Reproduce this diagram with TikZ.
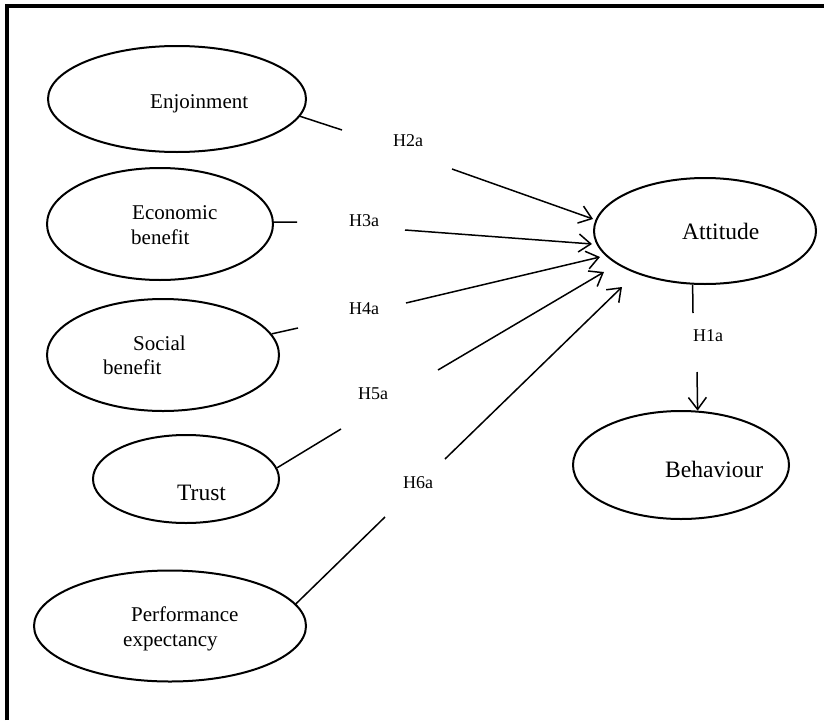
\documentclass[tikz,border=0pt]{standalone}
\usepackage{fontspec}
\setmainfont{Liberation Serif}
\usetikzlibrary{shapes.geometric,arrows.meta}
\begin{document}
\begin{tikzpicture}[x=1pt,y=-1pt,
  construct/.style={draw, ellipse, line width=2pt, inner sep=0pt},
  lbl/.style={inner sep=0pt, anchor=base west, font=\fontsize{21}{25}\selectfont},
  biglbl/.style={lbl, font=\fontsize{23.5}{28}\selectfont},
  hyp/.style={inner sep=0pt, anchor=base west, font=\fontsize{18}{21}\selectfont},
  link/.style={line width=1.5pt},
  arr/.style={link, -{Straight Barb[length=12pt,width=18pt]}}
]
\useasboundingbox (0,0) rectangle (824,720);
\draw[line width=4pt] (6.5,720) -- (6.5,6) -- (824,6);

% constructs
\node[construct, minimum width=258pt, minimum height=106pt] (enj) at (177,99) {};
\node[construct, minimum width=226pt, minimum height=112pt] (econ) at (160,224) {};
\node[construct, minimum width=232pt, minimum height=112pt] (soc) at (163,355) {};
\node[construct, minimum width=186pt, minimum height=88pt] (trust) at (186,479) {};
\node[construct, minimum width=272pt, minimum height=111pt] (perf) at (170,626) {};
\node[construct, minimum width=222pt, minimum height=106pt] (att) at (705,231) {};
\node[construct, minimum width=216pt, minimum height=108pt] (beh) at (681,465) {};

% texts
\node[lbl] (tenj) at (150,108) {Enjoinment};
\node[lbl] (tecon1) at (132,219) {Economic};
\node[lbl] (tecon2) at (131,244) {benefit};
\node[lbl] (tsoc1) at (133,350) {Social};
\node[lbl] (tsoc2) at (103,374) {benefit};
\node[biglbl] (ttrust) at (177,500) {Trust};
\node[lbl] (tperf1) at (131,621) {Performance};
\node[lbl] (tperf2) at (123,646) {expectancy};
\node[biglbl] (tatt) at (682,239) {Attitude};
\node[biglbl] (tbeh) at (665,477) {Behaviour};

% hypothesis labels
\node[hyp] (h2) at (393,146) {H2a};
\node[hyp] (h3) at (349,226) {H3a};
\node[hyp] (h4) at (349,314) {H4a};
\node[hyp] (h5) at (358,399) {H5a};
\node[hyp] (h6) at (403,488) {H6a};
\node[hyp] (h1) at (693,341) {H1a};

% gap ends and arrow tips
\coordinate (c2a) at (342,130); \coordinate (c2b) at (452,169); \coordinate (t2) at (593,219);
\coordinate (c3a) at (297,222); \coordinate (c3b) at (405,230); \coordinate (t3) at (592,244);
\coordinate (c4a) at (298,328); \coordinate (c4b) at (406,303); \coordinate (t4) at (600,257);
\coordinate (c5a) at (341,429); \coordinate (c5b) at (438,370); \coordinate (t5) at (604,272);
\coordinate (c6a) at (385,517); \coordinate (c6b) at (445,459); \coordinate (t6) at (622,287);
\coordinate (c1a) at (693,313); \coordinate (c1b) at (697,372);

% connectors
\draw[link] (enj.352) -- (c2a);  \draw[arr] (c2b) -- (t2);
\draw[link] (econ.1) -- (c3a);   \draw[arr] (c3b) -- (t3);
\draw[link] (soc.11.3) -- (c4a); \draw[arr] (c4b) -- (t4);
\draw[link] (trust.7) -- (c5a);  \draw[arr] (c5b) -- (t5);
\draw[link] (perf.10.2) -- (c6a);\draw[arr] (c6b) -- (t6);
\draw[link] (att.257) -- (c1a);  \draw[arr] (c1b) -- (beh.73);
\end{tikzpicture}
\end{document}
